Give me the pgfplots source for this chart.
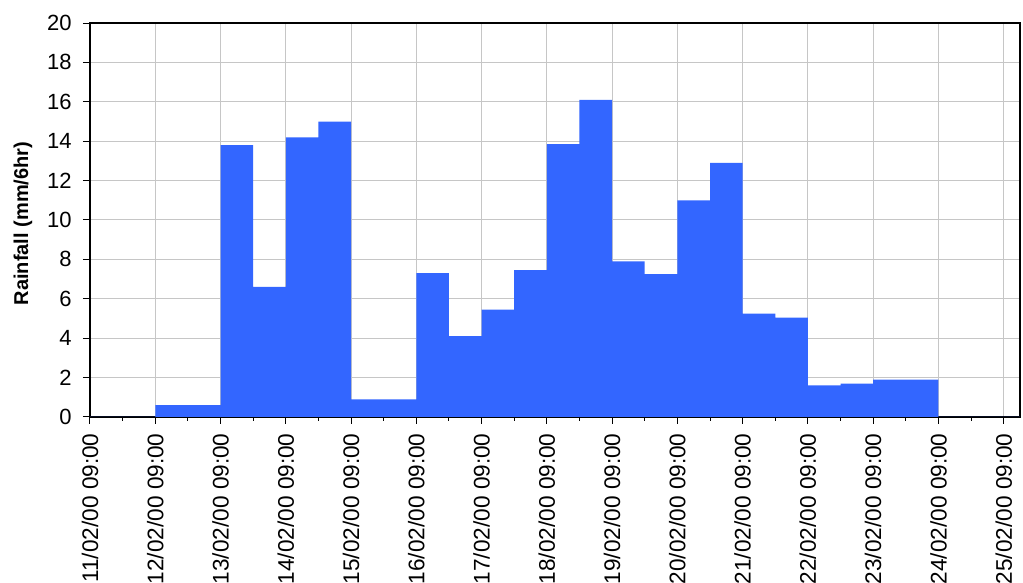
\documentclass[border=0pt]{standalone}
\usepackage{pgfplots}
\pgfplotsset{compat=1.18}
\usepackage{fontspec}
\setmainfont{Liberation Sans}
\definecolor{barblue}{RGB}{51,102,255}
\begin{document}
\begin{tikzpicture}
\begin{axis}[
  scale only axis,
  width=465pt, height=197pt,
  xmin=0, xmax=14.25, ymin=0, ymax=20,
  xtick={0,1,...,14},
  minor x tick num=1,
  ytick={0,2,...,20},
  xticklabels={11/02/00 09:00,12/02/00 09:00,13/02/00 09:00,14/02/00 09:00,15/02/00 09:00,16/02/00 09:00,17/02/00 09:00,18/02/00 09:00,19/02/00 09:00,20/02/00 09:00,21/02/00 09:00,22/02/00 09:00,23/02/00 09:00,24/02/00 09:00,25/02/00 09:00},
  x tick label style={rotate=90, anchor=east, inner sep=0pt, xshift=-4.5pt, font=\fontsize{11.3}{13}\selectfont},
  y tick label style={inner sep=0pt, xshift=-5.5pt, font=\fontsize{11}{13}\selectfont},
  /pgf/number format/assume math mode=true,
  tick align=outside,
  xtick pos=bottom, ytick pos=left,
  major tick length=3.5pt, minor tick length=2pt,
  tick style={black, line width=0.5pt},
  grid=major,
  major grid style={gray!45, line width=0.5pt},
  minor grid style={draw=none},
  axis line style={black, line width=1pt},
  ylabel={\bfseries Rainfall (mm/6hr)},
  ylabel style={font=\fontsize{11.7}{13}\selectfont},
  every axis y label/.style={at={([xshift=-33.5pt, yshift=-1.75pt]rel axis cs:0,0.5)}, rotate=90, anchor=center},
]
\addplot[const plot, fill=barblue, draw=none] coordinates {
(0,0) (1,0.6) (2,13.8) (2.5,6.6) (3,14.2) (3.5,15.0) (4,0.9) (5,7.3) (5.5,4.1) (6,5.45) (6.5,7.45) (7,13.85) (7.5,16.1) (8,7.9) (8.5,7.25) (9,11.0) (9.5,12.9) (10,5.25) (10.5,5.05) (11,1.6) (11.5,1.7) (12,1.9) (13,0) (14.25,0)
} \closedcycle;
\end{axis}
\pgfresetboundingbox
\path ([shift={(-45pt,-83pt)}]current axis.south west) rectangle ([shift={(1.5pt,11.5pt)}]current axis.north east);
\end{tikzpicture}
\end{document}
